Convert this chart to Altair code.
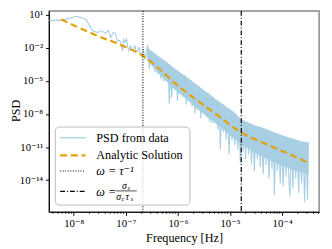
import altair as alt
import pandas as pd

# ---------------- values (log10 exponents) ----------------
# measured PSD, low-frequency part
blue_low_fexp = [-8.47, -8.243, -7.944, -7.766, -7.645, -7.544, -7.465, -7.398, -7.340,
                 -7.290, -7.243, -7.202, -7.164, -7.129, -7.097, -7.067, -7.039, -7.013,
                 -6.989, -6.964, -6.942, -6.916, -6.888, -6.860, -6.832, -6.804, -6.776,
                 -6.748, -6.720, -6.692, -6.664, -6.636, -6.607, -6.579, -6.551, -6.523,
                 -6.495, -6.467, -6.439]
blue_low_pexp = [0.50, 0.50, 0.88, 0.58, -0.42, -0.59, -0.42, -0.68, -0.42,
                 -1.04, -0.59, -0.68, -1.39, -1.30, -1.48, -2.27, -1.21, -1.48,
                 -1.21, -1.92, -2.27, -1.83, -2.10, -2.27, -1.74, -2.27, -2.36,
                 -1.92, -2.54, -2.81, -2.10, -3.07, -2.36, -1.74, -3.87, -2.36,
                 -3.42, -2.63, -4.22]
# measured PSD, noisy high-frequency part: [log10 f, log10 PSD]
blue_high = [
    [-6.411, -2.894], [-6.383, -4.398], [-6.355, -3.071], [-6.327, -4.841], [-6.299, -3.248],
    [-6.271, -5.018], [-6.243, -3.425], [-6.215, -4.664], [-6.187, -3.513], [-6.168, -7.053],
    [-6.140, -3.779], [-6.121, -6.522], [-6.093, -3.867], [-6.065, -5.726], [-6.037, -3.956],
    [-6.009, -6.788], [-5.981, -4.221], [-5.953, -6.080], [-5.925, -4.398], [-5.897, -6.434],
    [-5.869, -4.487], [-5.841, -7.142], [-5.813, -4.752], [-5.785, -6.699], [-5.757, -4.929],
    [-5.729, -7.319], [-5.701, -5.106], [-5.673, -7.938], [-5.645, -5.283], [-5.617, -7.673],
    [-5.589, -5.460], [-5.561, -8.381], [-5.533, -5.726], [-5.505, -7.850], [-5.477, -5.903],
    [-5.449, -8.292], [-5.421, -6.080], [-5.393, -8.735], [-5.364, -6.257], [-5.346, -8.823],
    [-5.318, -6.434], [-5.290, -8.646], [-5.262, -6.699], [-5.234, -9.442], [-5.206, -6.876],
    [-5.187, -11.212], [-5.159, -7.053], [-5.131, -9.619], [-5.103, -7.230], [-5.075, -10.327],
    [-5.047, -7.407], [-5.019, -11.655], [-4.991, -7.584], [-4.963, -10.416], [-4.935, -7.761],
    [-4.907, -10.858], [-4.879, -8.027], [-4.850, -11.212], [-4.822, -8.381], [-4.804, -12.363],
    [-4.776, -8.558], [-4.748, -11.389], [-4.720, -8.646], [-4.701, -12.097], [-4.673, -8.735],
    [-4.645, -11.655], [-4.617, -8.912], [-4.589, -12.540], [-4.561, -9.000], [-4.533, -13.159],
    [-4.505, -9.088], [-4.477, -12.097], [-4.449, -9.177], [-4.421, -12.814], [-4.393, -9.265],
    [-4.364, -13.434], [-4.336, -9.354], [-4.308, -12.628], [-4.280, -9.442], [-4.252, -13.876],
    [-4.224, -9.531], [-4.196, -12.982], [-4.168, -9.619], [-4.150, -15.373], [-4.121, -9.708],
    [-4.093, -13.159], [-4.065, -9.796], [-4.037, -14.310], [-4.009, -9.885], [-3.981, -14.575],
    [-3.953, -9.973], [-3.925, -13.690], [-3.897, -10.062], [-3.869, -14.044], [-3.850, -15.462],
    [-3.822, -10.150], [-3.794, -14.752], [-3.766, -10.239], [-3.738, -13.876], [-3.710, -10.327],
    [-3.682, -15.195], [-3.654, -10.416], [-3.626, -14.310], [-3.598, -10.504], [-3.570, -15.965],
    [-3.542, -10.504], [-3.514, -15.788], [-3.495, -10.593],
]
# dense body of the noisy PSD (upper / lower edge)
band_fexp = [-6.598, -6.411, -6.224, -6.037, -5.850, -5.664, -5.477, -5.290, -5.103,
             -4.916, -4.785, -4.542, -4.355, -4.168, -3.981, -3.794, -3.607, -3.495]
band_hi_pexp = [-1.920, -2.628, -3.248, -3.956, -4.575, -5.283, -5.903, -6.611, -7.230,
                -7.850, -8.469, -9.000, -9.265, -9.619, -9.973, -10.239, -10.504, -10.593]
band_lo_pexp = [-3.071, -4.133, -5.018, -5.903, -6.611, -7.407, -8.115, -8.823, -9.531,
                -10.239, -10.770, -11.478, -11.920, -12.363, -12.717, -13.071, -13.336, -13.513]
# analytic solution
orange_fexp = [-8.243, -7.626, -7.009, -6.692, -6.411, -6.037, -5.664, -5.290,
               -4.766, -4.355, -3.925, -3.514]
orange_pexp = [0.584, -0.743, -1.920, -2.655, -3.690, -5.283, -6.655, -7.938,
               -9.735, -10.62, -11.50, -12.39]
# characteristic frequencies
vline_fexp = [-6.673, -4.785]

x_tick_exp = [-8, -7, -6, -5, -4]
x_tick_labels = ["10⁻⁸", "10⁻⁷", "10⁻⁶", "10⁻⁵", "10⁻⁴"]
y_tick_exp = [1, -2, -5, -8, -11, -14]
y_tick_labels = ["10¹", "10⁻²", "10⁻⁵", "10⁻⁸", "10⁻¹¹", "10⁻¹⁴"]
minor_mult = [2, 3, 4, 5, 6, 7, 8, 9]
minor_decades = [-9, -8, -7, -6, -5, -4]
x_domain_exp = [-8.477, -3.290]
y_domain_exp = [-16.88, 1.354]

legend_labels = ["PSD from data", "Analytic Solution", "ω = τ⁻¹", "ω ="]

# ---------------- build tables ----------------
low_df = pd.DataFrame({"f": [10 ** v for v in blue_low_fexp], "p": [10 ** v for v in blue_low_pexp]})
high_df = pd.DataFrame({"f": [10 ** a for a, b in blue_high], "p": [10 ** b for a, b in blue_high]})
blue_df = pd.concat([low_df, high_df], ignore_index=True)
band_df = pd.DataFrame({"f": [10 ** v for v in band_fexp],
                        "p": [10 ** v for v in band_hi_pexp],
                        "p2": [10 ** v for v in band_lo_pexp]})
orange_df = pd.DataFrame({"f": [10 ** v for v in orange_fexp], "p": [10 ** v for v in orange_pexp]})
minor_vals = [m * 10.0 ** d for d in minor_decades for m in minor_mult]
minor_vals = [v for v in minor_vals if 10 ** x_domain_exp[0] < v < 10 ** x_domain_exp[1]]
minor_df = pd.DataFrame({"f": minor_vals})
v1_df = pd.DataFrame({"f": [10 ** vline_fexp[0]]})
v2_df = pd.DataFrame({"f": [10 ** vline_fexp[1]]})

SERIF = "Liberation Serif, DejaVu Serif, serif"
BLUE = "#a6cee3"
ORANGE = "#E69F00"
W, H = 277, 206


def lab_expr(exps, labels):
    parts = [f"round(log(datum.value)/LN10) == {e} ? '{l}'" for e, l in zip(exps, labels)]
    return " : ".join(parts) + " : ''"


xscale = alt.Scale(type="log", domain=[10 ** x_domain_exp[0], 10 ** x_domain_exp[1]], nice=False)
yscale = alt.Scale(type="log", domain=[10 ** y_domain_exp[0], 10 ** y_domain_exp[1]], nice=False)
xaxis = alt.Axis(values=[10.0 ** e for e in x_tick_exp], labelExpr=lab_expr(x_tick_exp, x_tick_labels),
                 title="Frequency [Hz]", grid=False, tickSize=3.5, labelPadding=2,
                 titleY=30, titleBaseline="alphabetic")
yaxis = alt.Axis(values=[10.0 ** e for e in y_tick_exp], labelExpr=lab_expr(y_tick_exp, y_tick_labels),
                 title="PSD", grid=False, tickSize=3.5, labelPadding=3,
                 titleX=-34, titleY=102, titleAngle=270, titleBaseline="middle")


def X():
    return alt.X("f:Q", scale=xscale, axis=xaxis)


def Y():
    return alt.Y("p:Q", scale=yscale, axis=yaxis)


band = alt.Chart(band_df).mark_area(color=BLUE, opacity=0.95).encode(x=X(), y=Y(), y2="p2:Q")
blue = alt.Chart(blue_df).mark_line(color=BLUE, strokeWidth=1.1).encode(x=X(), y=Y())
orange = alt.Chart(orange_df).mark_line(color=ORANGE, strokeWidth=2.2, strokeDash=[7, 4],
                                        interpolate="monotone").encode(x=X(), y=Y())
v1 = alt.Chart(v1_df).mark_rule(color="black", strokeWidth=1.1, strokeDash=[1, 1.6]).encode(x=X())
v2 = alt.Chart(v2_df).mark_rule(color="black", strokeWidth=1.2, strokeDash=[5, 2, 1, 2]).encode(x=X())
minor = alt.Chart(minor_df).mark_rule(color="black", strokeWidth=0.8).encode(
    x=X(), y=alt.value(H), y2=alt.value(H + 2))

# legend (drawn box)
one = pd.DataFrame({"a": [0]})
leg_box = alt.Chart(one).mark_rect(cornerRadius=4, fill="white", fillOpacity=0.8,
                                   stroke="#bbbbbb", strokeWidth=1).encode(
    x=alt.value(6.5), x2=alt.value(144.5), y=alt.value(119), y2=alt.value(199))
leg_y = [130, 148, 164, 185]
s1 = alt.Chart(one).mark_rule(color=BLUE, strokeWidth=1.3).encode(
    x=alt.value(11.5), x2=alt.value(37.5), y=alt.value(leg_y[0]))
s2 = alt.Chart(one).mark_rule(color=ORANGE, strokeWidth=2.2, strokeDash=[7, 4]).encode(
    x=alt.value(11.5), x2=alt.value(37.5), y=alt.value(leg_y[1]))
s3 = alt.Chart(one).mark_rule(color="black", strokeWidth=1.1, strokeDash=[1, 1.6]).encode(
    x=alt.value(11.5), x2=alt.value(37.5), y=alt.value(leg_y[2]))
s4 = alt.Chart(one).mark_rule(color="black", strokeWidth=1.2, strokeDash=[5, 2, 1, 2]).encode(
    x=alt.value(11.5), x2=alt.value(37.5), y=alt.value(leg_y[3]))


def txt(s, x, y, size=12.5, italic=False):
    kw = dict(align="left", baseline="middle", font=SERIF, fontSize=size, color="black")
    if italic:
        kw["fontStyle"] = "italic"
    return alt.Chart(one).mark_text(**kw).encode(x=alt.value(x), y=alt.value(y), text=alt.value(s))


t1 = txt(legend_labels[0], 48.5, leg_y[0])
t2 = txt(legend_labels[1], 48.5, leg_y[1])
t3 = txt(legend_labels[2], 48.5, leg_y[2], italic=True)
t4 = txt(legend_labels[3], 48.5, leg_y[3] + 1, italic=True)
# fraction sigma_s / (sigma_c tau_s)
fn1 = txt("σ", 75, 179.5, 10, True)
fn2 = txt("s", 80.5, 182, 7, True)
fbar = alt.Chart(one).mark_rule(color="black", strokeWidth=0.7).encode(
    x=alt.value(68.5), x2=alt.value(90), y=alt.value(184.5))
fd1 = txt("σ", 69, 190.5, 10, True)
fd2 = txt("c", 74.5, 193, 7, True)
fd3 = txt("τ", 78.5, 190.5, 10, True)
fd4 = txt("s", 83.5, 193, 7, True)

chart = alt.layer(
    band, blue, orange, v1, v2, minor,
    leg_box, s1, s2, s3, s4, t1, t2, t3, t4, fn1, fn2, fbar, fd1, fd2, fd3, fd4
).properties(
    width=W, height=H,
    autosize=alt.AutoSizeParams(type="none"),
    padding={"left": 42, "top": 0, "right": 5, "bottom": 35},
).configure_view(
    stroke="#888888", strokeWidth=1.5
).configure_axis(
    labelFont=SERIF, titleFont=SERIF, labelFontSize=11, titleFontSize=12.5,
    titleFontWeight="normal", labelColor="black", titleColor="black",
    domainColor="black", tickColor="black", domainWidth=1, tickWidth=1
)

chart.save("out.html", embed_options={"renderer": "svg", "actions": False})
